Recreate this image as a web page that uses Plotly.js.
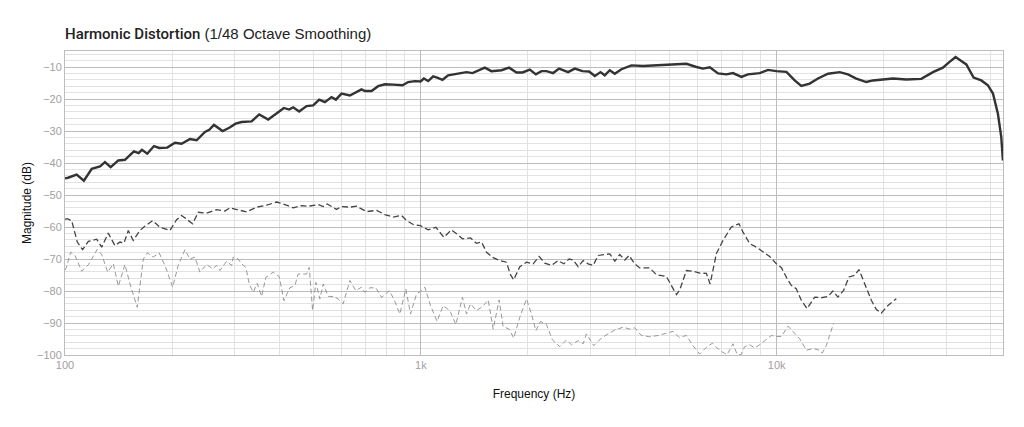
<!DOCTYPE html>
<html>
<head>
<meta charset="utf-8">
<script src="https://cdn.plot.ly/plotly-3.0.1.min.js"></script>
<style>html,body{margin:0;padding:0;background:#fff;}#chart{width:1024px;height:427px;}</style>
</head>
<body>
<div id="chart"></div>
<script>
// Fundamental (solid)
const fundFreq = [100,102,107.8,113,118.9,125.4,129.5,134.4,141.2,147.4,156.2,161,164.5,170.3,177.8,184,193.8,203.7,212.7,224.4,234.4,247.3,254.3,262.2,277.3,289.5,301.6,313.5,334.5,351.4,372.5,393.1,412.2,426.6,437.8,455,477.5,
498.3,517.9,537.5,561,577,598.6,631.8,659.6,681,696.3,726.8,758.7,792.2,836,888.3,921.3,961.9,998,1019.5,1048.5,1083,1111,1150.5,1193,1273,1344,1397,1433,1513,1579,1685,1770,1857,1930,2024,2105,2183,
2255,2353,2446,2593,2708,2845,2970,3083,3198,3287,3396,3508,3662,3907,4212,4592,5114,5575,5948,6208,
6486,6843,7222,7536,7959,8302,8956,9455,9980,10650,11235,11730,12380,13060,13940,15030,15860,16740,17860,18650,19890,21220,23130,25500,27490,29310,30610,31830,33020,34110,35760,37580,39220,40530,41850,42770,43230];
const fundDb = [-44.8,-44.6,-43.6,-45.5,-41.8,-41.1,-39.7,-41.3,-39.2,-39.0,-36.4,-36.9,-35.9,-37.1,-34.7,-35.3,-35.2,-33.7,-34.0,-32.5,-32.9,-30.3,-29.6,-28.1,-30.0,-29.0,-27.7,-27.2,-27.0,-24.8,-26.4,-24.4,-22.8,-23.3,-22.6,-23.9,-22.2,
-22.0,-20.2,-21.0,-19.4,-20.2,-18.3,-18.9,-17.8,-17.0,-17.5,-17.5,-16.0,-15.4,-15.5,-15.7,-14.7,-14.4,-14.5,-13.6,-14.4,-12.9,-13.3,-14.0,-12.6,-12.1,-11.6,-11.9,-11.3,-10.2,-11.3,-11.0,-10.2,-11.7,-11.7,-10.8,-12.3,-11.3,
-11.3,-11.9,-10.5,-11.6,-10.5,-11.3,-11.4,-12.8,-11.6,-12.6,-11.0,-12.1,-10.7,-9.5,-9.7,-9.5,-9.2,-9.0,-10.0,-10.5,
-10.1,-12.0,-12.3,-11.9,-13.1,-12.3,-11.9,-10.9,-11.3,-11.5,-14.2,-15.9,-15.2,-13.6,-12.1,-11.6,-12.3,-13.6,-14.7,-14.2,-13.9,-13.6,-13.9,-13.7,-11.6,-10.2,-8.4,-6.9,-8.1,-9.2,-13.3,-14.2,-15.7,-18.3,-24.6,-31.9,-39.2];

// 2nd harmonic (dark dashed)
const h2Freq = [100,101.3,104.4,108.3,112.1,116.3,122.7,126.8,132.3,138.1,142.7,146.5,150.6,155.5,162.4,167.8,176.3,184.9,197.2,205.9,212.7,219.7,228.4,236.8,250,266.7,281.4,290.8,303.5,323.8,345.4,368.6,393.1,410.5,437.8,462.2,482.3,
514.8,531.8,545.6,579.6,598.6,631.8,659.6,703.8,750.8,792.2,836,882.6,912,951.7,998,1048.5,1102,1160,1219,1260,1309,1379,1433,1481,1530,1597,1667,1740,1786,1824,1897,1981,2068,2150,2230,
2330,2431,2522,2610,2679,2767,2858,2952,3049,3149,3287,3396,3508,3623,3742,3848,3990,4121,4398,4592,4899,5060,5227,5340,5575,5818,6077,6346,6500,6770,7065,7458,7835,8043,8398,8770,9154,9554,9980,10310,10690,10990,11350,11730,12170,12790,13350,13940,14390,14860,15420,15970,16560,17030,17670,18450,19060,19680,20550,21690];
const h2Db = [-57.6,-57.4,-58.0,-64.7,-67.1,-64.5,-63.8,-66.3,-61.9,-65.8,-64.7,-65.0,-61.1,-64.2,-61.1,-59.7,-58.0,-60.1,-61.1,-57.7,-56.4,-57.5,-59.0,-55.4,-55.7,-54.6,-55.0,-54.0,-54.6,-55.3,-53.8,-53.2,-52.2,-52.8,-54.0,-53.3,-53.5,
-53.0,-53.6,-52.8,-54.5,-53.6,-53.8,-53.5,-55.2,-54.8,-56.1,-56.9,-56.4,-58.0,-59.2,-59.6,-60.9,-60.1,-63.2,-60.9,-62.1,-63.7,-63.4,-65.1,-64.7,-67.9,-69.6,-70.5,-71.0,-74.9,-76.5,-72.4,-71.0,-71.5,-69.2,-71.3,
-72.0,-70.5,-71.5,-70.0,-70.3,-72.4,-70.5,-71.5,-72.0,-68.9,-68.6,-68.4,-70.7,-68.6,-70.3,-68.9,-71.5,-72.8,-72.8,-74.9,-75.5,-78.3,-81.1,-79.7,-73.6,-73.8,-74.4,-74.5,-77.8,-68.3,-64.2,-60.0,-59.0,-61.6,-65.2,-66.3,-67.8,-69.2,-71.5,-72.7,-76.1,-78.2,-79.3,-82.9,-85.5,-81.9,-82.1,-81.7,-80.0,-81.9,-79.8,-75.6,-75.1,-73.3,-77.7,-82.9,-85.8,-86.9,-84.5,-82.4];

// 3rd harmonic (light dashed)
const h3Freq = [100,100.9,103.7,106.7,111.4,116.3,123.2,126.8,131.8,136.7,141.2,147.4,152.3,159.6,166,170.3,177,184,192.1,200.7,208,217.3,224.4,231.8,239.4,250,260,266.7,272.5,284.5,294,297,306.7,313.5,322.3,329.4,338,346.8,356.8,367,384.7,400,412.2,428.5,442.6,452,477.5,485.7,
496.3,507,520.2,531.8,549.3,567.2,585.7,605,631.8,656.9,681,696,719,747.5,775.6,814.7,840,873,907.5,935.5,972.6,998,1026,1065,1111,1155,1206,1254,1309,1344,1379,1433,1490,1546,1597,1660,1703,1770,1824,1897,1981,2046,2105,2169,
2255,2343,2458,2566,2651,2767,2858,2920,3062,3218,3359,3508,3702,3864,3990,4168,4398,4642,4899,5114,5318,5575,5818,6077,6346,6599,6918,7252,7536,7738,7924,8128,8398,8672,8956,9355,9663,9980,10310,10760,11110,11600,12120,12650,13060,13430,13790,14150,14460];
const h3Db = [-73.5,-72.6,-67.9,-68.9,-73.8,-71.8,-67.0,-68.6,-74.1,-71.5,-78.5,-71.7,-77.8,-85.1,-70.0,-68.1,-69.4,-68.1,-72.8,-78.8,-72.0,-67.1,-70.0,-69.4,-74.1,-71.7,-73.1,-72.0,-73.6,-70.7,-72.0,-69.4,-70.0,-71.5,-72.6,-77.8,-80.4,-77.6,-81.7,-75.7,-74.1,-75.5,-83.0,-79.0,-78.3,-74.7,-74.7,-72.6,
-86.1,-77.3,-82.5,-77.8,-81.7,-81.7,-82.5,-84.0,-76.7,-79.9,-78.8,-80.4,-79.0,-79.0,-82.0,-79.9,-82.5,-87.2,-79.4,-87.2,-80.9,-80.1,-78.8,-84.6,-89.5,-84.6,-86.1,-90.5,-82.0,-87.2,-84.0,-86.1,-84.9,-82.8,-91.9,-82.8,-91.1,-91.9,-94.7,-88.2,-82.5,-87.2,-92.4,-89.5,
-90.5,-95.3,-97.4,-95.3,-96.8,-95.5,-96.5,-93.4,-97.1,-94.7,-93.4,-92.2,-91.3,-91.9,-91.5,-93.9,-94.3,-93.9,-93.2,-92.6,-94.5,-93.9,-97.1,-99.7,-97.6,-96.3,-98.6,-99.9,-96.5,-99.7,-100,-97.4,-96.8,-97.8,-96.8,-95.3,-93.9,-94.2,-94.2,-91.0,-92.8,-94.9,-98.5,-98.0,-98.3,-99.4,-97.0,-93.3,-90.0];

// Tick labels
const xTickVals = [100, 1000, 10000];
const xTickText = ['100', '1k', '10k'];
const xMinorVals = [200,300,400,500,600,700,800,900,2000,3000,4000,5000,6000,7000,8000,9000,20000,30000,40000];

const FONT = 'Liberation Sans, Arial, Helvetica, sans-serif';

const traces = [
  {x: h3Freq, y: h3Db, type: 'scatter', mode: 'lines', line: {color: '#8c8c8c', width: 0.9, dash: '5px,3px'}},
  {x: h2Freq, y: h2Db, type: 'scatter', mode: 'lines', line: {color: '#444', width: 1.3, dash: '6px,3px'}},
  {x: fundFreq, y: fundDb, type: 'scatter', mode: 'lines', line: {color: '#333', width: 2.4}}
];

const layout = {
  width: 1024, height: 427,
  margin: {l: 65, r: 21, t: 51, b: 72},
  paper_bgcolor: '#fff', plot_bgcolor: '#fff',
  showlegend: false, hovermode: false,
  font: {family: FONT, color: '#999', size: 11},
  title: {
    text: '<span style="font-family:Roboto;font-weight:500">Harmonic Distortion</span> (1/48 Octave Smoothing)',
    font: {family: FONT, size: 15, color: '#222'},
    xref: 'container', x: 65/1024, xanchor: 'left',
    yref: 'container', y: 1 - 34/427, yanchor: 'middle'
  },
  xaxis: {
    type: 'log', range: [2, 4.636],
    tickmode: 'array', tickvals: xTickVals, ticktext: xTickText,
    showgrid: true, gridcolor: '#bcbcbc', gridwidth: 1,
    minor: {tickmode: 'array', tickvals: xMinorVals, showgrid: true, gridcolor: '#e2e2e2', gridwidth: 1, ticks: ''},
    showline: true, linecolor: '#bdbdbd', linewidth: 1, mirror: true,
    ticks: '', zeroline: false,
    tickfont: {family: FONT, size: 11, color: '#a0a0a0'},
    title: {text: 'Frequency (Hz)', font: {family: FONT, size: 12, color: '#111'}, standoff: 19}
  },
  yaxis: {
    range: [-100, -5],
    tickmode: 'linear', tick0: 0, dtick: 10,
    showgrid: true, gridcolor: '#bcbcbc', gridwidth: 1,
    minor: {dtick: 2, showgrid: true, gridcolor: '#e2e2e2', gridwidth: 1, ticks: ''},
    showline: true, linecolor: '#bdbdbd', linewidth: 1, mirror: true,
    ticks: '', zeroline: false,
    tickfont: {family: FONT, size: 11, color: '#a0a0a0'},
    title: {text: 'Magnitude (dB)', font: {family: FONT, size: 12, color: '#111'}, standoff: 2}
  }
};

Plotly.newPlot('chart', traces, layout, {staticPlot: true, displayModeBar: false});
</script>
</body>
</html>
